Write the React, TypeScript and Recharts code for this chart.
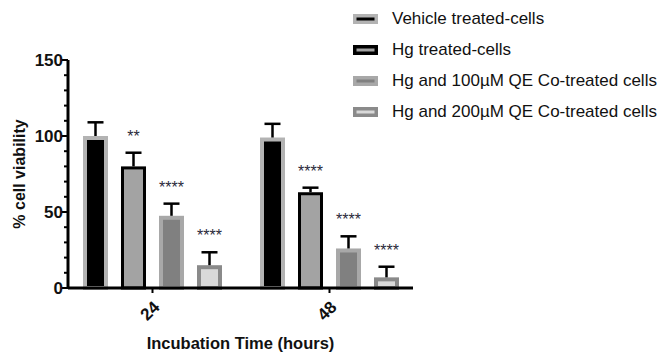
import React from "react";
import { BarChart, Bar, XAxis, YAxis, Label, LabelList } from "recharts";

const times = ["24", "48"];
const vehicle = [100, 99];
const vehicleSd = [9, 9];
const hg = [80, 63];
const hgSd = [9, 3];
const qe100 = [47.5, 26];
const qe100Sd = [8, 8];
const qe200 = [15, 7];
const qe200Sd = [8.5, 7];
const hgStars = ["**", "****"];
const qe100Stars = ["****", "****"];
const qe200Stars = ["****", "****"];
const yTicks = [0, 10, 20, 30, 40, 50, 60, 70, 80, 90, 100, 110, 120, 130, 140, 150];

const FONT = "'Liberation Sans', Arial, sans-serif";

const data = times.map((t, i) => ({
  time: t,
  vehicle: vehicle[i],
  vehicleSd: vehicleSd[i],
  hg: hg[i],
  hgSd: hgSd[i],
  qe100: qe100[i],
  qe100Sd: qe100Sd[i],
  qe200: qe200[i],
  qe200Sd: qe200Sd[i],
}));

const series = [
  { key: "vehicle", name: "Vehicle treated-cells", fill: "#000000", stroke: "#b3b3b3", sw: 4, values: vehicle, sd: vehicleSd, stars: null },
  { key: "hg", name: "Hg treated-cells", fill: "#a3a3a3", stroke: "#000000", sw: 3, values: hg, sd: hgSd, stars: hgStars },
  { key: "qe100", name: "Hg and 100\u00b5M QE Co-treated cells", fill: "#808080", stroke: "#a8a8a8", sw: 4, values: qe100, sd: qe100Sd, stars: qe100Stars },
  { key: "qe200", name: "Hg and 200\u00b5M QE Co-treated cells", fill: "#d9d9d9", stroke: "#8a8a8a", sw: 4, values: qe200, sd: qe200Sd, stars: qe200Stars },
];

// bar with an upward-only error whisker, outer stroke edge kept at the bar's edge
const makeShape = (s: any) => (props: any) => {
  const { x, y, width, height, payload } = props;
  const v = payload[s.key];
  const k = height / v;
  const errTop = y - payload[s.key + "Sd"] * k;
  const cx = x + width / 2;
  const h = s.sw / 2;
  return (
    <g>
      <rect x={x + h} y={y + h} width={width - s.sw} height={height - h} fill={s.fill} stroke={s.stroke} strokeWidth={s.sw} />
      <line x1={cx} y1={y} x2={cx} y2={errTop} stroke="#000" strokeWidth={2.5} />
      <line x1={cx - 8} y1={errTop} x2={cx + 8} y2={errTop} stroke="#000" strokeWidth={2.5} />
    </g>
  );
};

const makeStars = (s: any) => (props: any) => {
  const { x, y, width, height, index } = props;
  if (!s.stars) return null;
  const k = height / s.values[index];
  const errTop = y - s.sd[index] * k;
  return (
    <text x={x + width / 2} y={errTop - 11} textAnchor="middle" fontSize={16} fill="#2a2a3a" fontFamily={FONT}>
      {s.stars[index]}
    </text>
  );
};

const YTick = (props: any) => {
  const { x, y, payload } = props;
  const major = payload.value % 50 === 0;
  return (
    <g>
      <line x1={x - (major ? 6 : 4)} y1={y} x2={x} y2={y} stroke="#000" strokeWidth={2} />
      {major && (
        <text x={x - 5} y={y} dy="0.36em" textAnchor="end" fontSize={17} fontWeight="bold" fill="#111" fontFamily={FONT}>
          {payload.value}
        </text>
      )}
    </g>
  );
};

const XTick = (props: any) => {
  const { x, y, payload } = props;
  const ax = x + 4;
  const ay = y + 9;
  return (
    <text x={ax} y={ay} dy="0.35em" transform={`rotate(-45, ${ax}, ${ay})`} textAnchor="end" fontSize={17} fontWeight="bold" fill="#111" fontFamily={FONT}>
      {payload.value}
    </text>
  );
};

const LegendMark = ({ s }: any) => (
  <svg width={25} height={10} style={{ display: "block" }}>
    <rect x={1.75} y={1.75} width={21.5} height={6.5} fill={s.fill} stroke={s.stroke} strokeWidth={3.5} />
  </svg>
);

export default function App() {
  return (
    <div style={{ position: "absolute", left: 0, top: 0, width: 657, height: 353, background: "#fff", fontFamily: FONT }}>
      <BarChart width={657} height={353} data={data} margin={{ top: 60, right: 244, bottom: 0, left: 0 }} barSize={25} barGap={13}>
        <XAxis
          dataKey="time"
          height={65}
          padding={{ left: -4, right: -5 }}
          axisLine={{ stroke: "#000", strokeWidth: 3 }}
          tickLine={{ stroke: "#000", strokeWidth: 2 }}
          tickSize={5}
          tick={<XTick />}
        >
          <Label
            content={(p: any) => {
              const vb = p.viewBox;
              return (
                <text x={vb.x + vb.width / 2} y={349} textAnchor="middle" fontSize={16.5} fontWeight="bold" fill="#111" fontFamily={FONT}>
                  Incubation Time (hours)
                </text>
              );
            }}
          />
        </XAxis>
        <YAxis
          width={68}
          domain={[0, 150]}
          ticks={yTicks}
          interval={0}
          axisLine={{ stroke: "#000", strokeWidth: 3 }}
          tickLine={false}
          tickSize={0}
          tickMargin={0}
          tick={<YTick />}
        >
          <Label
            content={(p: any) => {
              const vb = p.viewBox;
              const cy = vb.y + vb.height / 2;
              return (
                <text x={25} y={cy} transform={`rotate(-90, 25, ${cy})`} textAnchor="middle" fontSize={16} fontWeight="bold" fill="#111" fontFamily={FONT}>
                  % cell viability
                </text>
              );
            }}
          />
        </YAxis>
        {series.map((s) => (
          <Bar key={s.key} dataKey={s.key} name={s.name} isAnimationActive={false} shape={makeShape(s)}>
            <LabelList dataKey={s.key} content={makeStars(s)} />
          </Bar>
        ))}
      </BarChart>
      <div style={{ position: "absolute", left: 353, top: 3, width: 304 }}>
        {series.map((s) => (
          <div key={s.key} style={{ display: "flex", alignItems: "center", height: 31 }}>
            <LegendMark s={s} />
            <span style={{ marginLeft: 14, fontSize: 17, color: "#111", whiteSpace: "nowrap" }}>{s.name}</span>
          </div>
        ))}
      </div>
    </div>
  );
}
